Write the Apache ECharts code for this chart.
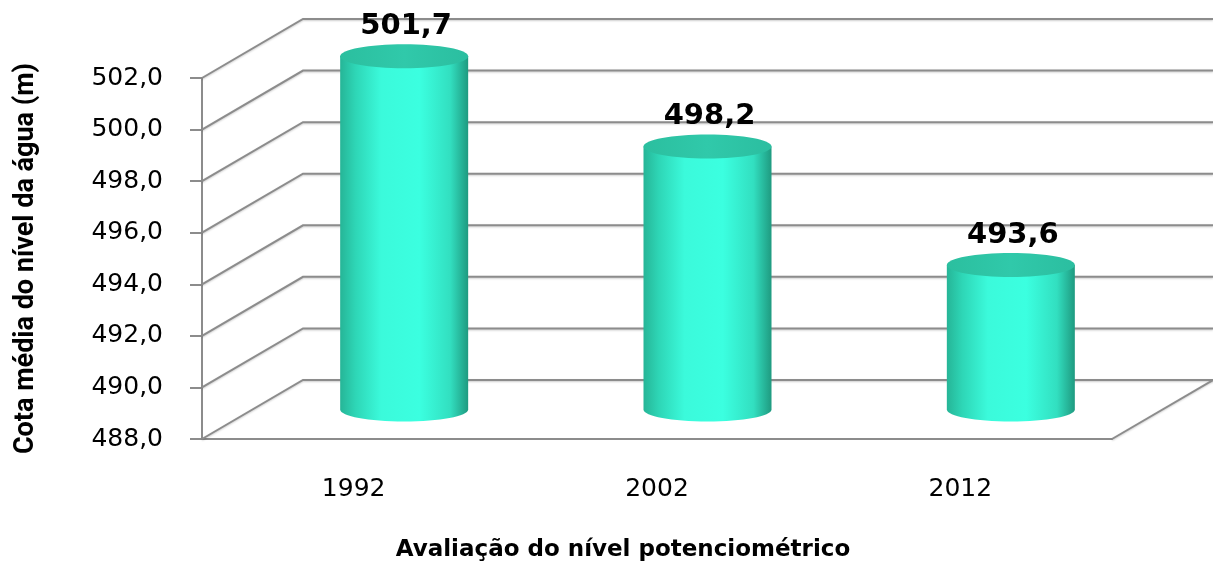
<!DOCTYPE html>
<html>
<head>
<meta charset="utf-8">
<script src="https://cdn.jsdelivr.net/npm/echarts@6/dist/echarts.min.js"></script>
<style>
  html, body { margin: 0; padding: 0; background: #fff; }
  #chart { width: 1213px; height: 561px; }
</style>
</head>
<body>
<div id="chart"></div>
<script>
// data
const years = ['1992', '2002', '2012'];
const levels = [501.7, 498.2, 493.6];
const yTicks = [488, 490, 492, 494, 496, 498, 500, 502];

const yMin = yTicks[0];
const yMax = yTicks[yTicks.length - 1];

// depth of the fake 3D box, in pixels (back wall offset)
const DX = 101, DY = -59;
const RX = 64, RY = 12;
const K = 0.5523;
const lineColor = '#8c8c8c';

function fmt(v) { return v.toFixed(1).replace('.', ','); }

function ellipsePath(cx, cy, rx, ry) {
  return 'M' + (cx - rx) + ' ' + cy +
    ' C' + (cx - rx) + ' ' + (cy - K * ry) + ' ' + (cx - K * rx) + ' ' + (cy - ry) + ' ' + cx + ' ' + (cy - ry) +
    ' C' + (cx + K * rx) + ' ' + (cy - ry) + ' ' + (cx + rx) + ' ' + (cy - K * ry) + ' ' + (cx + rx) + ' ' + cy +
    ' C' + (cx + rx) + ' ' + (cy + K * ry) + ' ' + (cx + K * rx) + ' ' + (cy + ry) + ' ' + cx + ' ' + (cy + ry) +
    ' C' + (cx - K * rx) + ' ' + (cy + ry) + ' ' + (cx - rx) + ' ' + (cy + K * ry) + ' ' + (cx - rx) + ' ' + cy + ' Z';
}

function bodyPath(cx, top, bot, rx, ry) {
  return 'M' + (cx - rx) + ' ' + top +
    ' L' + (cx - rx) + ' ' + bot +
    ' C' + (cx - rx) + ' ' + (bot + K * ry) + ' ' + (cx - K * rx) + ' ' + (bot + ry) + ' ' + cx + ' ' + (bot + ry) +
    ' C' + (cx + K * rx) + ' ' + (bot + ry) + ' ' + (cx + rx) + ' ' + (bot + K * ry) + ' ' + (cx + rx) + ' ' + bot +
    ' L' + (cx + rx) + ' ' + top + ' Z';
}

function renderWalls(params, api) {
  const cs = params.coordSys;
  const v = api.value(1);
  const y = api.coord([0, v])[1];
  const x0 = cs.x, x1 = cs.x + cs.width;
  const style = { stroke: lineColor, lineWidth: 2, fill: null,
    shadowColor: 'rgba(0,0,0,0.2)', shadowOffsetY: 1, shadowBlur: 2 };
  const children = [{
    type: 'polyline',
    shape: { points: [[x0, y], [x0 + DX, y + DY], [x1 + DX, y + DY]] },
    style: style
  }];
  if (v === yMin) {
    children.push({
      type: 'line',
      shape: { x1: x1, y1: y, x2: x1 + DX, y2: y + DY },
      style: style
    });
  }
  return { type: 'group', children: children };
}

function renderCylinder(params, api) {
  const i = api.value(0);
  const v = api.value(1);
  const p = api.coord([i, v]);
  const b = api.coord([i, yMin]);
  const cx = p[0] + DX / 2;
  const top = p[1] + DY / 2;
  const bot = b[1] + DY / 2;
  return {
    type: 'group',
    children: [{
      type: 'path',
      shape: { pathData: bodyPath(cx, top, bot, RX, RY) },
      style: {
        fill: new echarts.graphic.LinearGradient(0, 0, 1, 0, [
          { offset: 0, color: '#26b597' },
          { offset: 0.12, color: '#2ed6b6' },
          { offset: 0.32, color: '#3bfadb' },
          { offset: 0.62, color: '#3bffe0' },
          { offset: 0.86, color: '#32dfc0' },
          { offset: 1, color: '#1f9a80' }
        ])
      }
    }, {
      type: 'path',
      shape: { pathData: ellipsePath(cx, top, RX, RY) },
      style: {
        fill: new echarts.graphic.LinearGradient(0, 0, 1, 0, [
          { offset: 0, color: '#2bbf9f' },
          { offset: 0.5, color: '#30c9aa' },
          { offset: 1, color: '#2bbea0' }
        ])
      }
    }, {
      type: 'text',
      style: {
        text: fmt(v),
        x: cx + 2,
        y: top - 30,
        align: 'center',
        verticalAlign: 'middle',
        fill: '#000',
        fontFamily: 'DejaVu Sans',
        fontWeight: 'bold',
        fontSize: 29
      }
    }]
  };
}

const chart = echarts.init(document.getElementById('chart'));
chart.setOption({
  animation: false,
  backgroundColor: '#fff',
  grid: {
    left: 202, right: 101, top: 78, bottom: 122,
    containLabel: false, outerBoundsMode: 'none'
  },
  xAxis: {
    type: 'category',
    data: years,
    boundaryGap: true,
    axisLine: { lineStyle: { color: lineColor, width: 2 } },
    axisTick: { show: false },
    axisLabel: {
      margin: 38, color: '#000', fontFamily: 'DejaVu Sans', fontSize: 25
    },
    name: 'Avaliação do nível potenciométrico',
    nameLocation: 'middle',
    nameGap: 100,
    nameTextStyle: {
      color: '#000', fontFamily: 'DejaVu Sans', fontWeight: 'bold', fontSize: 23,
      padding: [0, 68, 0, 0]
    }
  },
  yAxis: {
    type: 'value',
    min: yMin, max: yMax, interval: 2,
    axisLine: { show: true, lineStyle: { color: lineColor, width: 2 } },
    axisTick: { show: true, length: 12, lineStyle: { color: lineColor, width: 2 } },
    splitLine: { show: false },
    axisLabel: {
      margin: 39, color: '#000', fontFamily: 'DejaVu Sans', fontSize: 25,
      padding: [10, 0, 0, 0],
      formatter: fmt
    },
    name: 'Cota média do nível da água (m)',
    nameLocation: 'middle',
    nameRotate: 90,
    nameGap: 162,
    nameTextStyle: {
      color: '#000', fontFamily: 'Roboto', fontWeight: 'bold', fontSize: 27,
      padding: [0, 0, 0, 0]
    }
  },
  series: [{
    type: 'custom',
    name: 'walls',
    z: 1,
    silent: true,
    renderItem: renderWalls,
    data: yTicks.map(v => [0, v])
  }, {
    type: 'custom',
    name: 'Cota',
    z: 2,
    renderItem: renderCylinder,
    data: levels.map((v, i) => [i, v])
  }]
});
</script>
</body>
</html>
